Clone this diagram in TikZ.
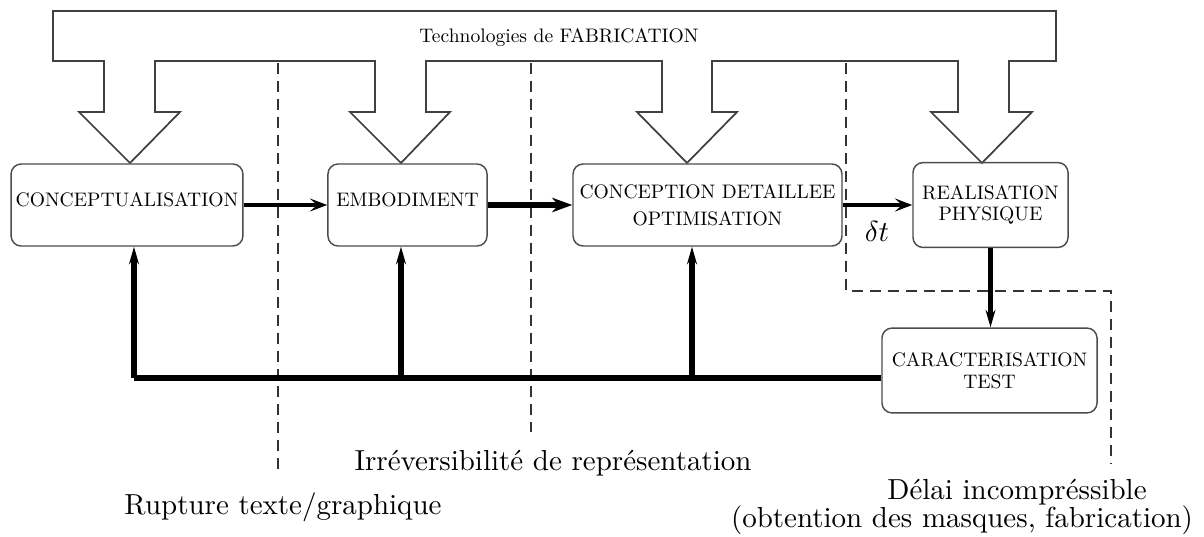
\documentclass[tikz,border=0pt]{standalone}
\usetikzlibrary{arrows.meta}

\font\stagefont="[lmroman10-regular.otf]" at 6.75pt
\newcommand{\stagetext}{\stagefont\baselineskip 8.5pt\relax}

\tikzset{
  stage/.style={draw=black!70, line width=0.5pt, rounded corners=3.5pt, align=center,
    font=\stagetext, inner sep=1pt, minimum height=28.3pt},
  oneline/.style={text height=4.7pt, text depth=3.4pt},
  flow/.style={line width=1.4pt, -{Stealth[length=6pt,width=4.5pt,inset=2.5pt]}},
  flowbold/.style={line width=2pt, -{Stealth[length=7pt,width=5pt]}},
  back/.style={line width=1.8pt, -{Stealth[length=6pt,width=3.4pt]}},
  limit/.style={black!80, line width=0.4pt, dash pattern=on 3.8pt off 2.4pt},
  band/.style={draw=black!75, line width=0.6pt},
}

\begin{document}
\begin{tikzpicture}[x=0.345pt, y=-0.345pt]
\useasboundingbox (0,0) rectangle (1204,536);

% Technologies de fabrication, feeding every stage
\draw[band] (53,11) -- (1056,11) -- (1056,61)
  -- (1009,61) -- (1009,112) -- (1032,112) -- (982,163) -- (931,112) -- (958,112) -- (958,61)
  -- (712,61) -- (712,112) -- (737,112) -- (687,163) -- (637,112) -- (662,112) -- (662,61)
  -- (426,61) -- (426,112) -- (450,112) -- (401,163) -- (350,112) -- (375,112) -- (375,61)
  -- (155,61) -- (155,112) -- (180,112) -- (130,163) -- (79,112) -- (104,112) -- (104,61)
  -- (53,61) -- cycle;
\node[font=\stagefont] (techno) at (559,38) {Technologies de FABRICATION};

% Separations
\draw[limit] (278,63) -- (278,470);
\draw[limit] (531,63) -- (531,432);
\draw[limit] (846,63) -- (846,291) -- (1111,291) -- (1111,463);

% Stages
\node[stage, oneline, minimum width=80pt] (concept) at (127,205) {CONCEPTUALISATION};
\node[stage, oneline, minimum width=54.9pt] (embod) at (407.5,205) {EMBODIMENT};
\node[stage, minimum width=92.8pt] (detail) at (707.5,205) {CONCEPTION DETAILLEE\\[0.8pt]OPTIMISATION};
\node[stage, minimum width=53.5pt, minimum height=29.3pt] (real) at (990.5,205) {REALISATION\\[-1pt]PHYSIQUE};
\node[stage, minimum width=74.2pt, minimum height=29.3pt] (carac) at (989.5,370.5) {CARACTERISATION\\[-1pt]TEST};

% Forward flow
\draw[flow] (concept) -- (embod);
\draw[flowbold] (embod) -- (detail);
\draw[flow] (detail) -- (real);
\node (dt) at (877,231) {$\delta t$};
\draw[back] (real.south) -- (real.south |- carac.north);

% Feedback
\coordinate (loop0) at (134,378);
\coordinate (loop1) at (401,378);
\coordinate (loop2) at (692,378);
\draw[line width=1.8pt] (carac.west |- loop0) -- (loop0);
\draw[back] (loop0) -- (loop0 |- concept.south);
\draw[back] (loop1) -- (loop1 |- embod.south);
\draw[back] (loop2) -- (loop2 |- detail.south);

% Labels
\node (irrev) at (553,463) {Irréversibilité de représentation};
\node (rupture) at (283,507) {Rupture texte/graphique};
\node (delai) at (1017,492) {Délai incompréssible};
\node (masques) at (962,520) {(obtention des masques, fabrication)};
\end{tikzpicture}
\end{document}
